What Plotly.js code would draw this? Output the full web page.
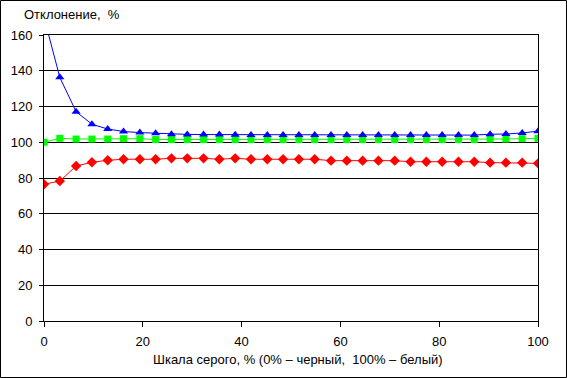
<!DOCTYPE html>
<html><head><meta charset="utf-8">
<script src="https://cdn.plot.ly/plotly-3.0.1.min.js"></script>
<style>html,body{margin:0;padding:0;background:#fff}#chart{width:567px;height:378px}</style>
</head><body><div id="chart"></div>
<script>
const xValues = [0, 3.2, 6.5, 9.7, 12.9, 16.1, 19.4, 22.6, 25.8, 29.0, 32.3, 35.5, 38.7, 41.9, 45.2, 48.4, 51.6, 54.8, 58.1, 61.3, 64.5, 67.7, 71.0, 74.2, 77.4, 80.6, 83.9, 87.1, 90.3, 93.5, 96.8, 100];
const blueValues = [170, 136.3, 117.1, 110.1, 107.4, 106.0, 105.4, 105.0, 104.5, 104.4, 104.3, 104.3, 104.2, 104.0, 104.0, 104.0, 104.0, 104.0, 104.0, 104.0, 104.0, 104.0, 104.0, 104.0, 104.0, 104.0, 104.0, 104.0, 104.5, 104.6, 105.2, 106.2];
const greenValues = [100, 102.2, 101.8, 101.8, 101.8, 102.0, 102.0, 101.5, 101.5, 101.5, 101.5, 101.5, 101.5, 101.5, 101.5, 101.5, 101.5, 101.5, 101.5, 101.5, 101.5, 101.5, 101.5, 101.5, 101.5, 101.5, 101.5, 101.5, 101.8, 101.8, 102.0, 102.2];
const redValues = [76.5, 78.3, 86.7, 88.8, 89.9, 90.5, 90.5, 90.5, 91.0, 91.0, 91.0, 90.5, 91.0, 90.5, 90.5, 90.5, 90.5, 90.5, 89.7, 89.7, 89.7, 89.7, 89.7, 89.1, 89.1, 89.1, 89.1, 89.1, 88.6, 88.6, 88.6, 88.2];
const xTicks = [0, 20, 40, 60, 80, 100];
const yTicks = [0, 20, 40, 60, 80, 100, 120, 140, 160];
const yTitle = "Отклонение,  %";
const xTitle = "Шкала серого, % (0% – черный,  100% – белый)";

const font = {family: "Liberation Sans, Arial, sans-serif", size: 13, color: "#000"};
const traces = [
  {x: xValues, y: greenValues, mode: "lines+markers", line: {color: "#00FF00", width: 1}, marker: {symbol: "square", size: 7, color: "#00FF00"}, cliponaxis: true},
  {x: xValues, y: redValues, mode: "lines+markers", line: {color: "#FF0000", width: 1}, marker: {symbol: "diamond", size: 8, color: "#FF0000"}, cliponaxis: true},
  {x: xValues, y: blueValues, mode: "lines+markers", line: {color: "#0000FF", width: 1}, marker: {symbol: "triangle-up", size: 8, color: "#0000FF"}, cliponaxis: true}
];
const layout = {
  width: 567, height: 378,
  margin: {l: 44, r: 29, t: 35, b: 57},
  paper_bgcolor: "#fff", plot_bgcolor: "#fff",
  showlegend: false,
  font: font,
  xaxis: {range: [0, 100], tickvals: xTicks, ticktext: xTicks.map(String), showgrid: false, zeroline: false,
    showline: true, linecolor: "#000", linewidth: 1, mirror: true, ticks: "outside", ticklen: 5, tickcolor: "#000", tickfont: font, ticklabelstandoff: 3},
  yaxis: {range: [0, 160], tickvals: yTicks, ticktext: yTicks.map(String), showgrid: true, gridcolor: "#000", gridwidth: 1, zeroline: false,
    showline: true, linecolor: "#000", linewidth: 1, mirror: true, ticks: "outside", ticklen: 4, tickcolor: "#000", tickfont: font, ticklabelstandoff: 4},
  annotations: [
    {text: yTitle, xref: "paper", yref: "paper", x: -22/494, y: (321-15)/286, xanchor: "left", yanchor: "middle", showarrow: false, font: font},
    {text: xTitle, xref: "paper", yref: "paper", x: (298-44)/494, y: (321-359)/286, xanchor: "center", yanchor: "middle", showarrow: false, font: font}
  ],
  shapes: [
    {type: "rect", xref: "paper", yref: "paper", x0: (0.5-44)/494, x1: (566.5-44)/494, y0: (321-377.5)/286, y1: (321-0.5)/286, line: {color: "#000", width: 1}}
  ]
};
Plotly.newPlot("chart", traces, layout, {staticPlot: true, displayModeBar: false});
</script></body></html>
